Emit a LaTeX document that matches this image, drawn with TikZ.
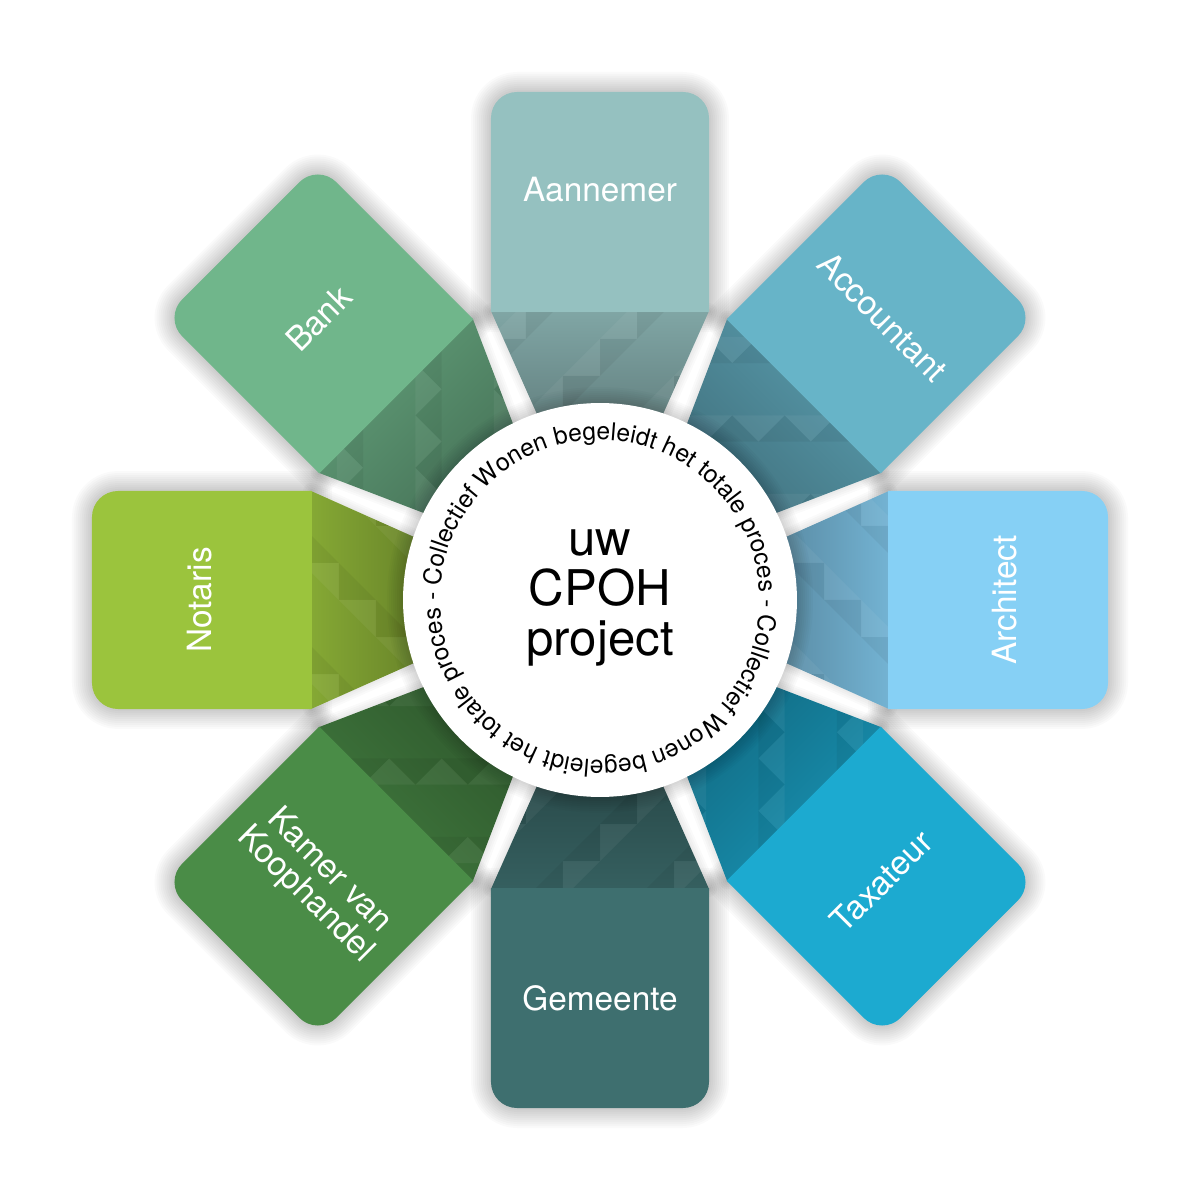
\documentclass[tikz,border=0pt]{standalone}
\usepackage{fontspec}
\setmainfont{TeX Gyre Heros}
\usetikzlibrary{decorations.text}
\definecolor{aannemer}{HTML}{95C1C0}
\definecolor{accountant}{HTML}{67B4C8}
\definecolor{architect}{HTML}{86D0F5}
\definecolor{taxateur}{HTML}{1CAAD0}
\definecolor{gemeente}{HTML}{3E6F6F}
\definecolor{kamer}{HTML}{4A8C47}
\definecolor{notaris}{HTML}{9BC43D}
\definecolor{bank}{HTML}{70B68B}
\tikzset{
  petal label/.style={text=white, font=\fontsize{19}{19}\selectfont, align=center},
  halo/.style={draw=black, line join=round, opacity=0.018},
  facet/.style={fill=#1, opacity=0.05},
  ring text/.style={decorate, decoration={text along path, text align=left,
    text={|\fontsize{14}{15}\selectfont|Collectief Wonen begeleidt het totale proces -}}},
}
% one petal, pointing up, in pixel units
\newcommand{\petalsquare}{(-109,288) -- (-109,482) arc[start angle=180,end angle=90,radius=26] -- (83,508) arc[start angle=90,end angle=0,radius=26] -- (109,288) -- cycle}
\newcommand{\petalstem}{(-109,289) -- (109,289) -- (47,150) -- (-47,150) -- cycle}

\begin{document}
\begin{tikzpicture}[x=0.02cm,y=0.02cm]
\useasboundingbox (-600,-600) rectangle (600,600);
\fill[white] (-600,-600) rectangle (600,600);

% soft shadows
\foreach \ang in {90,45,0,-45,-90,-135,180,135}{
  \begin{scope}[rotate=\ang-90]
    \foreach \w in {4,8,...,40}
      \draw[halo, line width=\w*0.2mm] \petalsquare;
    \foreach \w in {4,8,...,16}
      \draw[halo, line width=\w*0.2mm] \petalstem;
  \end{scope}
}

% petals
\foreach \ang/\col in {90/aannemer,45/accountant,0/architect,-45/taxateur,-90/gemeente,-135/kamer,180/notaris,135/bank}{
  \begin{scope}[rotate=\ang-90]
    \shade[top color=\col!86!black, bottom color=\col!62!black, shading angle=\ang-90] \petalstem;
    \begin{scope}
      \clip \petalstem;
      \foreach \i in {-3,...,2}
        \foreach \j in {0,...,3}{
          \pgfmathtruncatemacro{\k}{mod(\i+2*\j+6,3)}
          \ifnum\k=0
            \fill[facet=white] (\i*37,150+\j*37) -- ++(37,0) -- ++(0,37) -- cycle;
          \fi
          \ifnum\k=1
            \fill[facet=black] (\i*37,150+\j*37) -- ++(0,37) -- ++(37,0) -- cycle;
          \fi
        }
    \end{scope}
    \fill[\col] \petalsquare;
  \end{scope}
}

% centre
\foreach \w in {4,8,...,32}
  \draw[halo, line width=\w*0.2mm] (0,0) circle[radius=197];
\node[circle, fill=white, minimum size=7.88cm, inner sep=0pt] (hub) at (0,0) {};
\node[align=center, font=\fontsize{28}{28.5}\selectfont] (title) at (0,2) {uw\\CPOH\\project};
\path[ring text] (175:160) arc[start angle=175, end angle=-5, radius=160];
\path[ring text] (-5:160) arc[start angle=-5, end angle=-185, radius=160];

\node[petal label] (aannemer) at (90:410) {Aannemer};
\node[petal label, rotate=-45] (accountant) at (45:400) {Accountant};
\node[petal label, rotate=90] (architect) at (0:405) {Architect};
\node[petal label, rotate=45] (taxateur) at (-45:398) {Taxateur};
\node[petal label] (gemeente) at (-90:398) {Gemeente};
\node[petal label, rotate=-45] (kamer) at (-135:400) {Kamer van\\Koophandel};
\node[petal label, rotate=90] (notaris) at (180:400) {Notaris};
\node[petal label, rotate=45] (bank) at (135:398) {Bank};
\end{tikzpicture}
\end{document}
